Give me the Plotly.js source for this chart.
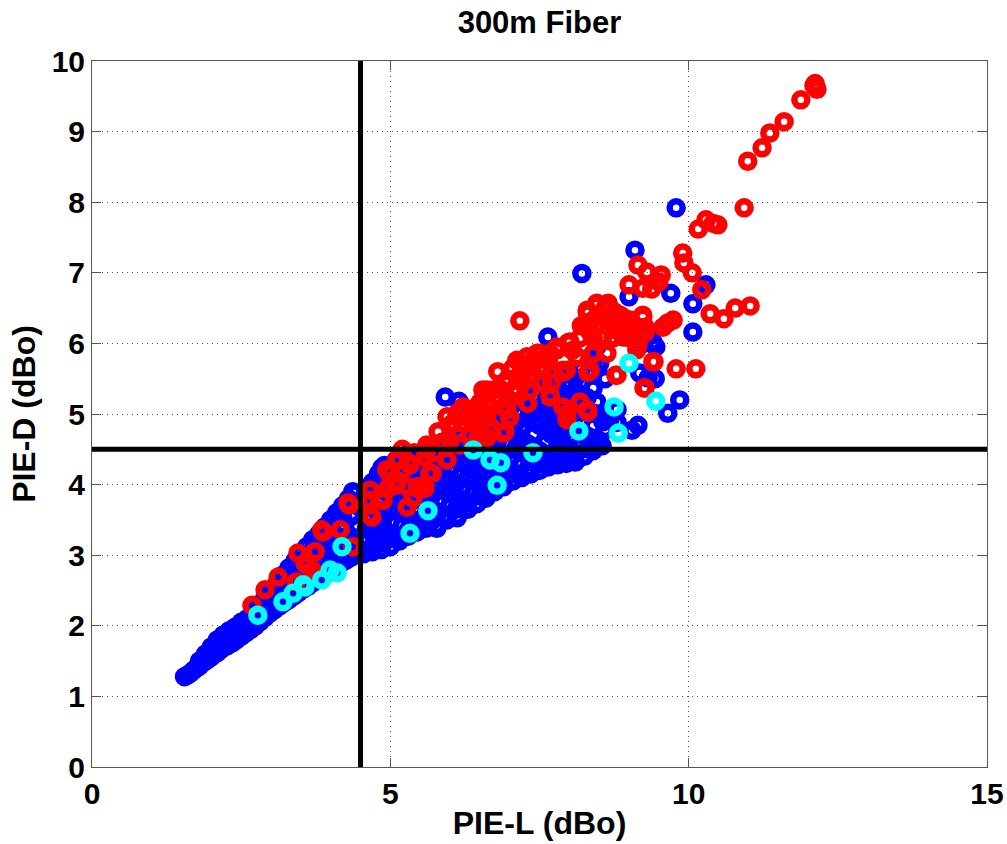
<!DOCTYPE html>
<html>
<head>
<meta charset="utf-8">
<script src="https://cdn.plot.ly/plotly-3.0.1.min.js"></script>
<style>html,body{margin:0;padding:0;background:#fff;}#chart{width:1007px;height:844px;}</style>
</head>
<body>
<div id="chart"></div>
<script>
// ---- Data ----
const chartTitle = '300m Fiber';
const xLabel = 'PIE-L (dBo)';
const yLabel = 'PIE-D (dBo)';
const xTicks = [0, 5, 10, 15];
const yTicks = [0, 1, 2, 3, 4, 5, 6, 7, 8, 9, 10];
const thresholdX = 4.5;
const thresholdY = 4.5;

// blue: lower band left of threshold
const blueBand = [
[1.55,1.28],[1.6,1.3],[1.65,1.33],[1.7,1.37],[1.75,1.4],[1.8,1.43],[1.85,1.47],[1.9,1.5],[1.95,1.53],[2.0,1.56],
[2.05,1.6],[2.1,1.62],[2.15,1.66],[2.2,1.69],[2.27,1.72],[2.35,1.76],[2.42,1.8],[2.5,1.85],[2.58,1.9],[2.66,1.95],
[2.74,2.0],[2.82,2.06],[2.9,2.12],[2.98,2.18],[3.06,2.23],[3.14,2.28],[3.22,2.33],[3.3,2.37],[3.38,2.42],[3.46,2.47],
[3.54,2.52],[3.62,2.56],[3.7,2.61],[3.78,2.66],[3.86,2.71],[3.94,2.75],[4.02,2.8],[4.1,2.84],[4.18,2.89],[4.26,2.93],
[4.34,2.97],[4.42,3.01],
[1.8,1.5],[1.9,1.6],[2.0,1.7],[2.1,1.8],[2.2,1.87],[2.3,1.93],[2.4,1.98],[2.5,2.05],[2.6,2.1],[2.7,2.2],
[2.8,2.3],[2.9,2.4],[3.0,2.5],[3.1,2.6],[3.2,2.72],[3.3,2.82],[3.4,2.92],[3.5,3.02],[3.6,3.12],[3.7,3.22],
[3.8,3.3],[3.9,3.4],[4.0,3.5],[4.1,3.6],[4.2,3.7],[4.3,3.8],[4.4,3.88],
[2.75,2.12],[2.9,2.25],[3.0,2.35],[3.1,2.43],[3.2,2.5],[3.3,2.6],[3.4,2.68],[3.45,2.8],[3.55,2.7],[3.6,2.85],
[3.65,2.75],[3.7,2.95],[3.75,2.82],[3.8,3.1],[3.85,2.9],[3.9,3.2],[3.95,3.0],[4.0,3.15],[4.05,3.32],[4.1,2.98],
[4.15,3.15],[4.2,3.4],[4.25,3.1],[4.3,3.28],[4.35,3.55],[4.4,3.2],[4.45,3.42],[4.45,3.7],[4.2,3.55],[3.85,3.05]
];

// blue: main mass right of threshold
const blueMass = [
[4.55,3.02],[4.7,3.05],[4.85,3.08],[5.0,3.12],[5.15,3.2],[5.3,3.27],[5.45,3.33],[5.6,3.38],[5.78,3.42],[5.95,3.5],
[6.12,3.55],[6.3,3.65],[6.45,3.73],[6.6,3.81],[6.75,3.9],[6.9,3.97],[7.05,4.05],[7.2,4.1],[7.35,4.15],[7.5,4.2],
[7.65,4.25],[7.8,4.28],[7.95,4.3],[8.1,4.32],[8.25,4.4],[8.4,4.48],[8.55,4.55],
[4.6,3.2],[4.6,3.38],[4.6,3.56],[4.6,3.74],[4.6,3.92],
[4.8,3.25],[4.8,3.43],[4.8,3.61],[4.8,3.79],[4.8,3.97],[4.8,4.15],
[5.0,3.3],[5.0,3.48],[5.0,3.66],[5.0,3.84],[5.0,4.02],[5.0,4.2],
[5.2,3.42],[5.2,3.6],[5.2,3.78],[5.2,3.96],[5.2,4.14],[5.2,4.32],
[5.4,3.48],[5.4,3.66],[5.4,3.84],[5.4,4.02],[5.4,4.2],[5.4,4.38],
[5.6,3.56],[5.6,3.74],[5.6,3.92],[5.6,4.1],[5.6,4.28],[5.6,4.46],
[5.8,3.6],[5.8,3.78],[5.8,3.96],[5.8,4.14],[5.8,4.32],[5.8,4.5],
[6.0,3.7],[6.0,3.88],[6.0,4.06],[6.0,4.24],[6.0,4.42],[6.0,4.6],
[6.2,3.78],[6.2,3.96],[6.2,4.14],[6.2,4.32],[6.2,4.5],[6.2,4.68],
[6.4,3.88],[6.4,4.06],[6.4,4.24],[6.4,4.42],[6.4,4.6],[6.4,4.78],
[6.6,3.98],[6.6,4.16],[6.6,4.34],[6.6,4.52],[6.6,4.7],[6.6,4.88],
[6.8,4.1],[6.8,4.28],[6.8,4.46],[6.8,4.64],[6.8,4.82],[6.8,5.0],
[7.0,4.2],[7.0,4.38],[7.0,4.56],[7.0,4.74],[7.0,4.92],[7.0,5.1],
[7.2,4.28],[7.2,4.46],[7.2,4.64],[7.2,4.82],[7.2,5.0],[7.2,5.18],
[7.4,4.35],[7.4,4.53],[7.4,4.71],[7.4,4.89],[7.4,5.07],[7.4,5.25],
[7.6,4.42],[7.6,4.6],[7.6,4.78],[7.6,4.96],[7.6,5.14],[7.6,5.32],[7.6,5.5],
[7.8,4.46],[7.8,4.64],[7.8,4.82],[7.8,5.0],[7.8,5.18],[7.8,5.36],[7.8,5.54],
[8.0,4.5],[8.0,4.68],[8.0,4.86],[8.0,5.04],[8.0,5.22],[8.0,5.4],[8.0,5.58],
[8.2,4.55],[8.2,4.73],[8.2,4.91],[8.2,5.09],[8.2,5.27],[8.2,5.45],[8.2,5.63],
[8.4,4.65],[8.4,4.83],[8.4,5.01],[8.4,5.37],[8.4,5.73],
[8.6,4.78],[8.6,4.96],[8.6,5.5],
[8.8,4.88],[8.8,5.06]
];

// blue: in-between points of the main mass
const blueMassFill = [
[4.7,3.13],[4.7,3.31],[4.7,3.67],[4.7,3.85],[4.7,4.03],
[4.9,3.19],[4.9,3.37],[4.9,3.55],[4.9,3.91],[4.9,4.09],[4.9,4.27],
[5.1,3.27],[5.1,3.63],[5.1,3.81],[5.1,3.99],[5.1,4.35],
[5.3,3.36],[5.3,3.54],[5.3,3.72],[5.3,4.08],[5.3,4.26],[5.3,4.44],
[5.5,3.43],[5.5,3.79],[5.5,3.97],[5.5,4.15],[5.5,4.33],
[5.7,3.49],[5.7,3.67],[5.7,3.85],[5.7,4.21],[5.7,4.39],
[5.9,3.56],[5.9,3.92],[5.9,4.1],[5.9,4.28],
[6.1,3.65],[6.1,3.83],[6.1,4.01],[6.1,4.37],[6.1,4.55],
[6.3,3.74],[6.3,4.1],[6.3,4.28],[6.3,4.46],[6.3,4.64],
[6.5,3.84],[6.5,4.02],[6.5,4.2],[6.5,4.56],[6.5,4.74],
[6.7,3.95],[6.7,4.31],[6.7,4.49],[6.7,4.67],
[6.9,4.06],[6.9,4.24],[6.9,4.42],[6.9,4.78],[6.9,4.96],
[7.1,4.15],[7.1,4.51],[7.1,4.69],[7.1,4.87],
[7.3,4.22],[7.3,4.4],[7.3,4.58],[7.3,4.94],[7.3,5.12],
[7.5,4.3],[7.5,4.48],[7.5,4.84],[7.5,5.02],[7.5,5.38],
[7.7,4.35],[7.7,4.71],[7.7,4.89],[7.7,5.07],[7.7,5.43],
[7.9,4.39],[7.9,4.57],[7.9,4.75],[7.9,5.11],[7.9,5.29],
[8.1,4.43],[8.1,4.79],[8.1,4.97],[8.1,5.33],[8.1,5.51],
[8.3,4.51],[8.3,4.69],[8.3,5.05],[8.3,5.23],
[8.5,4.62],[8.5,5.0]
];

// blue: isolated points
const blueScatter = [
[9.79,7.92],[9.1,7.32],[8.21,6.99],[10.29,6.83],[9.7,6.71],[9.0,6.66],[10.07,6.56],[10.07,6.16],[9.4,6.02],[7.64,6.09],
[5.92,5.24],[6.15,5.18],[9.18,5.58],[9.44,5.5],[9.85,5.2],[9.65,5.01],[9.15,4.84],[9.05,4.77],[8.56,4.89],[8.68,4.92],
[8.46,5.17],[8.46,5.95],[8.51,5.72],[9.32,5.51],[9.25,6.0],[9.35,6.15],[9.45,5.95],[8.4,4.53],[8.06,4.39],[7.68,4.87],
[7.76,4.75],[7.88,4.6],[4.86,4.24],[4.63,3.95],[4.37,3.9],[6.12,3.53],[5.78,3.38],[6.59,3.81]
];

const redPts = [
[12.1,9.65],[12.15,9.6],[12.12,9.68],[11.88,9.45],[11.6,9.14],[11.36,8.98],[11.23,8.77],[10.99,8.58],[10.93,7.92],[10.16,7.62],
[10.29,7.75],[10.41,7.7],[10.49,7.68],[9.9,7.28],[9.92,7.14],[10.06,7.0],[10.22,6.76],
[9.15,7.11],[9.3,7.01],[9.54,6.97],[9.0,6.83],[9.23,6.78],[9.38,6.77],[9.5,6.87],
[10.36,6.42],[10.59,6.35],[10.78,6.5],[11.03,6.53],[9.57,6.23],[9.65,6.29],[9.74,6.33],
[9.79,5.64],[10.12,5.64],[9.42,5.74],[9.25,5.37],[8.78,5.55],
[8.65,6.57],[8.68,6.36],[8.9,6.37],[9.23,6.4],[8.97,6.09],[9.15,5.98],[8.63,5.86],[8.73,6.08],[9.27,6.15],
[8.3,6.44],[8.46,6.57],[8.85,6.4],[9.02,6.33],[9.27,6.23],[9.07,6.22],[8.46,6.36],[8.63,6.33],[8.3,6.23],[8.8,6.19],
[8.9,6.09],[9.1,6.08],[9.13,5.91],[8.56,6.09],[8.4,6.08],[8.18,6.08],[8.01,6.02],[7.79,5.95],[7.51,5.86],[7.39,5.76],
[8.31,5.59],[8.8,5.55],[9.4,5.74],[9.27,5.37],[7.68,5.27],[8.18,5.17],[8.31,5.03],[7.96,5.01],[7.96,4.92],
[7.89,5.59],[7.95,5.62],[7.17,6.32],
[5.11,4.35],[5.3,4.31],[4.99,4.16],[5.66,4.16],[5.45,3.97],[5.58,3.95],[4.66,3.92],[5.11,4.02],[5.61,4.49],[5.88,4.6],
[6.0,4.84],[6.22,4.87],[6.22,5.1],[6.45,5.08],[6.55,5.34],[6.72,5.34],[6.62,5.17],[6.89,5.1],[6.55,4.92],[6.67,4.77],
[6.92,4.75],[6.33,4.7],[7.12,5.52],[7.22,5.44],[7.12,5.3],[7.34,5.69],[7.34,5.51],[7.46,5.76],[7.56,5.67],[7.56,5.45],
[7.68,5.86],[7.79,5.91],[7.68,5.24],[7.98,6.01],[8.31,6.43],[8.46,6.54],[8.56,6.37],[8.68,6.22],[8.9,6.29],
[9.02,6.08],[9.23,6.37],[5.95,4.96],
[5.61,4.56],[5.87,4.6],[5.58,4.39],[5.95,4.35],[6.17,4.56],[5.13,4.35],[5.33,4.28],[4.99,4.21],[5.08,3.99],[4.66,3.78],
[4.86,3.81],[5.5,3.97],[5.38,3.81],[5.28,3.68],[4.66,3.57],[6.05,4.87],[6.12,5.01],[6.28,5.06],[6.5,5.16],[6.95,5.44],
[7.34,5.34],[7.51,5.44],[8.18,5.16],[6.45,4.92],[6.62,5.01],[6.7,4.8],[6.47,4.67],
[8.35,6.15],[8.3,6.47],[8.4,6.33],[7.17,5.72],[7.51,5.62],[6.95,5.48],[7.06,5.34],[6.62,5.34],[6.79,5.24],[6.33,5.06],
[6.12,4.96],[6.62,4.96],[6.95,5.06],[7.0,5.2],[6.89,4.73],[6.62,4.67],[7.89,5.1],[8.3,5.06],[7.89,5.62],[8.35,5.62],
[8.4,5.86],[8.13,5.81],[7.46,5.86],[7.29,5.81],[7.12,5.76],
[5.8,4.75],[6.3,4.95],[6.85,5.35],[7.25,5.6],[7.65,5.75],[8.05,5.9],[8.2,6.25],[7.0,4.95],[7.3,5.15],[7.7,5.45],
[5.4,4.45],[5.2,4.5],[5.75,4.45],[6.0,4.62],[6.8,5.6],[7.05,5.65],[8.6,6.5],[8.75,6.45],
[2.68,2.29],[2.9,2.51],[3.12,2.69],[3.45,3.03],[3.74,3.05],[3.57,2.89],[3.69,2.79],[3.42,2.62],[3.85,3.36],[4.16,3.36],
[4.29,3.74],[4.37,3.12],[4.61,3.78],[4.69,3.54],[4.86,3.78],[4.96,3.95],[4.94,4.21],[3.6,2.86],[3.87,3.33],[4.31,3.71],
[4.63,3.75],[4.88,3.78],[5.21,4.21],[5.28,3.97],[5.45,3.95],[5.7,4.16]
];

const cyanPts = [
[9.0,5.72],[8.75,5.1],[9.45,5.18],[8.82,4.73],[8.16,4.76],[7.39,4.45],[6.39,4.49],[6.67,4.35],[6.85,4.31],[6.79,3.99],
[5.63,3.63],[5.33,3.31],[4.19,3.12],[3.99,2.79],[4.11,2.75],[3.85,2.65],[3.57,2.55],[3.37,2.46],[3.2,2.34],[2.78,2.15],
[3.54,2.58]
];

// ---- Build traces ----
const bluePts = blueBand.concat(blueMass, blueMassFill, blueScatter);
function ringTrace(pts, color) {
  return {
    type: 'scatter', mode: 'markers',
    x: pts.map(p => p[0]), y: pts.map(p => p[1]),
    marker: {symbol: 'circle-open', size: 13, color: color, line: {color: color, width: 6.5}},
    hoverinfo: 'x+y', showlegend: false, cliponaxis: true
  };
}
const traces = [ringTrace(bluePts, '#0000ff'), ringTrace(redPts, '#ff0000'), ringTrace(cyanPts, '#00ffff')];

const fontFam = '"Liberation Sans", Arial, Helvetica, sans-serif';
const axisCommon = {
  showline: true, linecolor: '#555', linewidth: 1, mirror: 'ticks',
  ticks: 'inside', ticklen: 9, tickcolor: '#555', tickwidth: 1,
  showgrid: true, gridcolor: '#555', griddash: '1px,4px', gridwidth: 1,
  zeroline: false, fixedrange: true,
  tickfont: {family: fontFam, size: 30, color: '#000', weight: 'bold'}
};

const layout = {
  width: 1007, height: 844,
  margin: {l: 92, r: 20, t: 61, b: 77},
  paper_bgcolor: '#fff', plot_bgcolor: '#fff',
  title: {text: chartTitle, font: {family: fontFam, size: 31, color: '#000', weight: 'bold'},
          x: 0.5, xref: 'paper', xanchor: 'center', y: 0.974, yref: 'container', yanchor: 'middle'},
  xaxis: Object.assign({}, axisCommon, {
    range: [0, 15], tickvals: xTicks, ticktext: xTicks.map(String),
    title: {text: xLabel, font: {family: fontFam, size: 32, color: '#000', weight: 'bold'}, standoff: 2}
  }),
  yaxis: Object.assign({}, axisCommon, {
    range: [0, 10], tickvals: yTicks, ticktext: yTicks.map(String),
    title: {text: yLabel, font: {family: fontFam, size: 32, color: '#000', weight: 'bold'}, standoff: 6}
  }),
  shapes: [
    {type: 'line', xref: 'x', yref: 'y', x0: thresholdX, x1: thresholdX, y0: 0, y1: 10, line: {color: '#000', width: 5}, layer: 'above'},
    {type: 'line', xref: 'x', yref: 'y', x0: 0, x1: 15, y0: thresholdY, y1: thresholdY, line: {color: '#000', width: 5}, layer: 'above'}
  ]
};

Plotly.newPlot('chart', traces, layout, {displayModeBar: false, staticPlot: true});
</script>
</body>
</html>
